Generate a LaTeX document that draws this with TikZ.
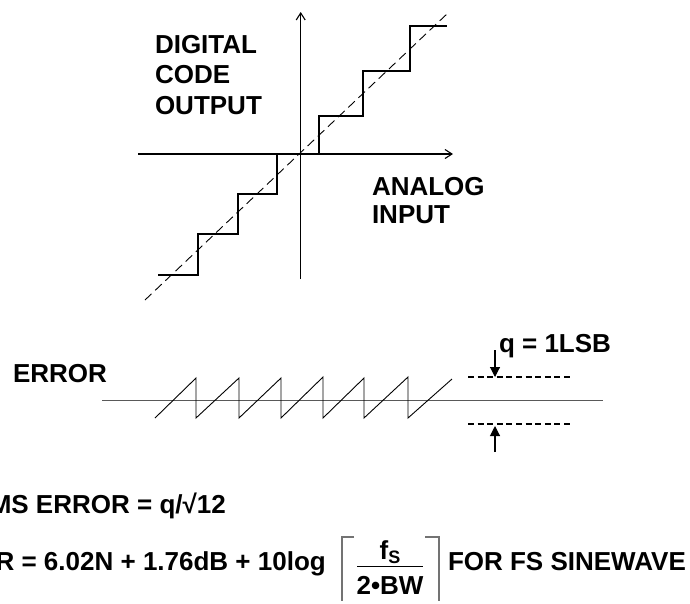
\documentclass[tikz,border=0pt]{standalone}
\usepackage{fontspec}
\setmainfont{Liberation Sans}
\usetikzlibrary{arrows.meta}
\begin{document}
\begin{tikzpicture}[x=1pt,y=-1pt,
  lbl/.style={font=\fontsize{26}{30.5}\selectfont\bfseries, inner sep=0pt, outer sep=0pt},
  axis/.style={line width=1.1pt, -{Straight Barb[length=7pt,width=9pt,line width=1.1pt]}},
  stair/.style={line width=1.1pt, line join=miter},
  ideal/.style={line width=0.9pt, dash pattern=on 9pt off 5pt},
  saw/.style={line width=0.9pt},
  errline/.style={line width=1.2pt, draw=black!65},
  level/.style={line width=1.4pt, dash pattern=on 6pt off 3.6pt},
  qarrow/.style={line width=1.1pt, -{Triangle[length=10pt,width=10pt]}},
  brack/.style={line width=1.2pt, draw=black!55},
]
\useasboundingbox (0,0) rectangle (690,603);
\clip (0,0) rectangle (690,603);

% --- transfer function ---
\coordinate (o) at (300.7,154);
\coordinate (yb) at (300.7,279);
\coordinate (yt) at (300.7,12);
\coordinate (xl) at (138,154);
\coordinate (xr) at (453,154);
\draw[axis] (yb) -- (yt);
\draw[axis] (xl) -- (xr);
\draw[ideal] (145,300) -- (448,13);
\draw[stair] (158,275) -- (198,275) -- (198,234) -- (238,234) -- (238,194)
  -- (277,194) -- (277,154) -- (319,154) -- (319,116) -- (363,116)
  -- (363,71) -- (410,71) -- (410,26) -- (447,26);

\node[lbl, anchor=north west, align=left] (dco) at (155,35) {DIGITAL\\CODE\\OUTPUT};
\node[lbl, anchor=north west, align=left, font=\fontsize{26}{28}\selectfont\bfseries] (ain) at (372,177) {ANALOG\\INPUT};

% --- quantization error ---
\node[lbl, anchor=base west] (err) at (13,382) {ERROR};
\draw[errline] (102,400.7) -- (603,400.7);
\draw[saw] (155,418) -- (196,378) -- (196,418) -- (239,378) -- (239,418)
  -- (281,378) -- (281,418) -- (323,377) -- (323,418) -- (364,378)
  -- (364,418) -- (408,377) -- (408,418) -- (452,379);
\draw[level] (468,377) -- (573,377);
\draw[level] (468,424) -- (573,424);
\coordinate (qa1) at (495,350);
\coordinate (qa1t) at (495,377);
\coordinate (qa2) at (495,452);
\coordinate (qa2t) at (495,426);
\draw[qarrow] (qa1) -- (qa1t);
\draw[qarrow] (qa2) -- (qa2t);
\node[lbl, anchor=base west] (q) at (499,352) {q = 1LSB};

% --- formulas ---
\node[lbl, anchor=base west] (rms) at (-29,513) {RMS ERROR = q/√12};
\node[lbl, anchor=base west] (snr) at (-40.5,570) {SNR = 6.02N + 1.76dB + 10log};
\draw[brack] (354,537) -- (342,537) -- (342,601);
\draw[brack] (425,537) -- (439,537) -- (439,601);
\node[lbl, anchor=base] (num) at (390,559) {f\raisebox{-4pt}{\fontsize{18}{18}\selectfont S}};
\draw[line width=1pt] (357,566) -- (423,566);
\node[lbl, anchor=base] (den) at (390,594) {2•BW};
\node[lbl, anchor=base west] (fs) at (448,570) {FOR FS SINEWAVE};
\end{tikzpicture}
\end{document}
